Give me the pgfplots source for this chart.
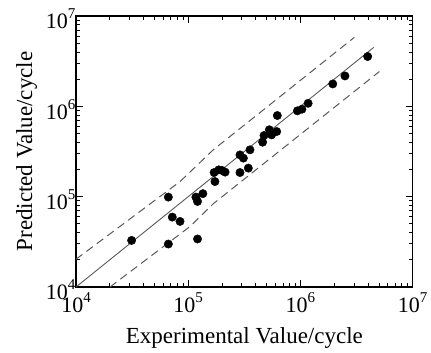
\documentclass[border=0pt]{standalone}
\usepackage{fontspec}
\setmainfont{Liberation Serif}
\usepackage{pgfplots}
\pgfplotsset{compat=1.18}
\newcommand{\tp}[1]{10\raisebox{0.45em}{\fontsize{15bp}{15bp}\selectfont #1}}
\definecolor{lgray}{gray}{0.35}
\begin{document}
\begin{tikzpicture}
\path[use as bounding box] (-76bp,-66bp) rectangle (355bp,287bp);
\begin{axis}[
  at={(0,0)}, anchor=south west,
  scale only axis, width=336.7bp, height=271bp,
  xmode=log, ymode=log,
  xmin=1e4, xmax=1e7, ymin=1e4, ymax=1e7,
  xtick={1e4,1e5,1e6,1e7}, ytick={1e4,1e5,1e6,1e7},
  xticklabels={\tp{4},\tp{5},\tp{6},\tp{7}},
  yticklabels={\tp{4},\tp{5},\tp{6},\tp{7}},
  tick align=inside,
  major tick length=7bp, minor tick length=4bp,
  axis line style={line width=1.2bp},
  every tick/.style={black, line width=0.8bp},
  tick label style={font=\fontsize{22bp}{26bp}\selectfont},
  label style={font=\fontsize{23bp}{27bp}\selectfont},
  yticklabel style={xshift=3bp, yshift=-3bp},
  xticklabel style={yshift=-2bp},
  xlabel={Experimental Value/cycle},
  ylabel={Predicted Value/cycle},
  xlabel style={at={(axis description cs:0.5,0)}, anchor=base, yshift=-57bp},
  ylabel style={at={(axis description cs:0,0.5)}, anchor=base, rotate=0, yshift=44bp},
  clip=false,
]
\addplot[lgray, line width=0.9bp] coordinates {(1e4,1e4) (4.5e6,4.5e6)};
\addplot[lgray, line width=1bp, dash pattern=on 8bp off 5bp] coordinates {
  (1e4,2.03e4) (8.45e4,1.47e5) (1.67e5,3.3e5) (3.02e6,5.8e6)};
\addplot[lgray, line width=1bp, dash pattern=on 8bp off 5bp] coordinates {
  (2.01e4,1e4) (1.04e5,4.69e4) (1.67e5,8.34e4) (5.05e6,2.43e6)};
\addplot[only marks, mark=*, mark size=4.2bp, black] coordinates {
(3.13e4,3.28e4)
(6.65e4,9.89e4)
(6.65e4,2.99e4)
(7.21e4,5.94e4)
(8.45e4,5.32e4)
(1.17e5,9.89e4)
(1.21e5,8.85e4)
(1.35e5,1.08e5)
(1.21e5,3.40e4)
(1.70e5,1.85e5)
(1.73e5,1.47e5)
(1.87e5,1.98e5)
(2.00e5,1.95e5)
(2.13e5,1.87e5)
(2.89e5,1.85e5)
(2.89e5,2.90e5)
(3.10e5,2.67e5)
(3.43e5,2.07e5)
(3.55e5,3.30e5)
(4.60e5,4.01e5)
(4.73e5,4.75e5)
(5.28e5,5.50e5)
(5.53e5,4.83e5)
(6.14e5,5.26e5)
(6.22e5,7.91e5)
(9.38e5,8.91e5)
(1.03e6,9.29e5)
(1.17e6,1.08e6)
(1.94e6,1.77e6)
(2.49e6,2.17e6)
(3.97e6,3.56e6)
};
\end{axis}
\end{tikzpicture}
\end{document}
